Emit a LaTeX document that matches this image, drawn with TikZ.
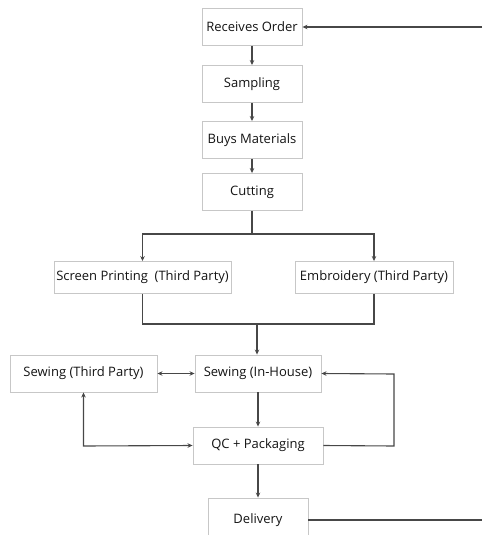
\documentclass[tikz,border=0pt]{standalone}
\usepackage{fontspec}
\setmainfont{Open Sans}
\usetikzlibrary{arrows.meta}
\begin{document}
\begin{tikzpicture}[x=1pt,y=-1pt,
  box/.style={draw=black!22, line width=0.9pt, fill=white, inner sep=0pt, font=\fontsize{13}{15}\selectfont, text=black!92},
  conn/.style={draw=black!72, line width=1.1pt, -{Stealth[length=5pt,width=4.5pt]}},
  dconn/.style={draw=black!72, line width=1.1pt, {Stealth[length=5pt,width=4.5pt]}-{Stealth[length=5pt,width=4.5pt]}},
  plain/.style={draw=black!72, line width=1.1pt}]
\useasboundingbox (0,0) rectangle (482,535);
\clip (0,0) rectangle (482,535);
\node[box, minimum width=100pt, minimum height=37pt] (ro) at (252,27) {Receives Order};
\node[box, minimum width=100pt, minimum height=37pt] (sa) at (252,84) {Sampling};
\node[box, minimum width=100pt, minimum height=37pt] (bm) at (252,140) {Buys Materials};
\node[box, minimum width=100pt, minimum height=37pt] (cu) at (252,192) {Cutting};
\node[box, minimum width=177pt, minimum height=32pt] (sp) at (142.5,277.5) {Screen Printing\ \ (Third Party)};
\node[box, minimum width=158pt, minimum height=32pt] (em) at (374,277.5) {Embroidery (Third Party)};
\node[box, minimum width=126pt, minimum height=37pt] (si) at (258,373.5) {Sewing (In-House)};
\node[box, minimum width=147pt, minimum height=37pt] (st) at (83.5,373.5) {Sewing (Third Party)};
\node[box, minimum width=130pt, minimum height=37pt] (qc) at (258,445.5) {QC + Packaging};
\node[box, minimum width=100pt, minimum height=44pt] (de) at (258,520) {Delivery};
\coordinate (inR) at (482,27);
\coordinate (outR) at (482,520);
\coordinate (br) at (252,234);
\coordinate (mg) at (257,324);
\coordinate (lc) at (83.5,446);
\coordinate (rc) at (394,446);
\coordinate (rt) at (394,374);
% main chain
\draw[conn] (inR) -- (ro.east);
\draw[conn] (ro) -- (sa);
\draw[conn] (sa) -- (bm);
\draw[conn] (bm) -- (cu);
\draw[plain] (cu.south) -- (br);
\draw[conn] (br) -| (sp.north);
\draw[conn] (br) -| (em.north);
\draw[plain] (sp.south) |- (mg);
\draw[plain] (em.south) |- (mg);
\draw[conn] (mg) -- (mg |- si.north);
\draw[dconn] (st.east) -- (si.west);
\draw[conn] (si) -- (qc);
\draw[dconn] (st.south) -- (lc) -- (qc.west);
\draw[conn] (qc.east) -- (rc) -- (rt) -- (si.east);
\draw[conn] (qc) -- (de);
\draw[plain] (de.east) -- (outR);
\end{tikzpicture}
\end{document}
